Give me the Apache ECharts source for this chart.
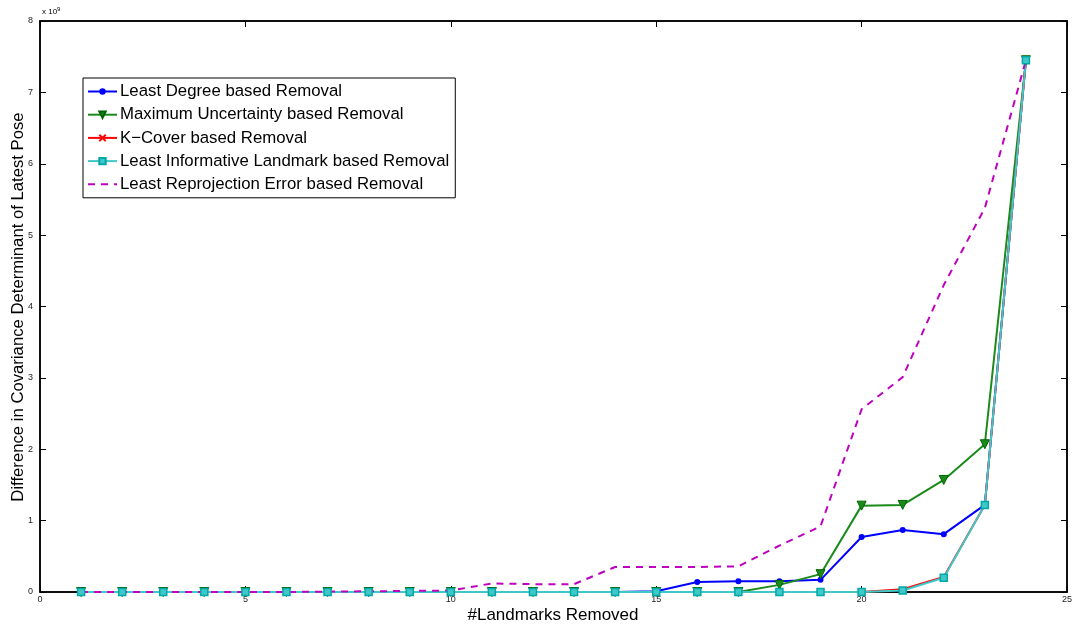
<!DOCTYPE html>
<html><head><meta charset="utf-8">
<script src="https://cdn.jsdelivr.net/npm/echarts@6/dist/echarts.min.js"></script>
<style>html,body{margin:0;padding:0;background:#fff}#c{width:1073px;height:629px}</style>
</head><body><div id="c"></div>
<script>
const xs = [1,2,3,4,5,6,7,8,9,10,11,12,13,14,15,16,17,18,19,20,21,22,23,24];
const leastDegree = [0,0,0,0,0,0,0,0,0,0,0,0,0,0,0.01,0.14,0.15,0.15,0.17,0.77,0.87,0.81,1.22,7.45];
const maxUncert   = [0,0,0,0,0,0,0,0,0,0,0,0,0,0,0,0,0,0.1,0.25,1.21,1.22,1.57,2.07,7.45];
const kCover      = [0,0,0,0,0,0,0,0,0,0,0,0,0,0,0,0,0,0,0,0,0.04,0.21,1.22,7.45];
const leastInfo   = [0,0,0,0,0,0,0,0,0,0,0,0,0,0,0,0,0,0,0,0,0.02,0.2,1.22,7.45];
const leastReproj = [0,0,0,0,0,0,0.005,0.01,0.015,0.02,0.12,0.11,0.11,0.35,0.35,0.35,0.36,0.65,0.92,2.56,3.01,4.3,5.38,7.45];
const names = ['Least Degree based Removal','Maximum Uncertainty based Removal','K\u2212Cover based Removal','Least Informative Landmark based Removal','Least Reprojection Error based Removal'];
const xTicks = [0,5,10,15,20,25];
const yTicks = [0,1,2,3,4,5,6,7,8];
const xTitle = '#Landmarks Removed';
const yTitle = 'Difference in Covariance Determinant of Latest Pose';

const pair = a => xs.map((x,i)=>[x,a[i]]);
const font = 'Liberation Sans, Arial, Helvetica, sans-serif';
const chart = echarts.init(document.getElementById('c'));
const axisCommon = {
  axisLine:{show:true,onZero:false,lineStyle:{color:'#000',width:1.5}},
  axisTick:{show:true,inside:true,length:6,lineStyle:{color:'#000'}},
  splitLine:{show:false}
};
chart.setOption({
  animation:false,
  grid:{left:40,right:6,top:21,bottom:37,show:true,borderColor:'#000',borderWidth:1.5,outerBoundsMode:'none',containLabel:false},
  xAxis:[
    Object.assign({type:'value',min:0,max:25,interval:5,
      axisLabel:{fontFamily:font,fontSize:9,color:'#222',margin:3}},axisCommon),
    Object.assign({type:'value',min:0,max:25,interval:5,position:'top',axisLabel:{show:false}},axisCommon)
  ],
  yAxis:[
    Object.assign({type:'value',min:0,max:8,interval:1,
      axisLabel:{fontFamily:font,fontSize:9,color:'#222',margin:7}},axisCommon),
    Object.assign({type:'value',min:0,max:8,interval:1,position:'right',axisLabel:{show:false}},axisCommon)
  ],
  legend:{
    orient:'vertical',left:83,top:78,
    backgroundColor:'#fff',borderColor:'#000',borderWidth:1,
    padding:[5,6,5,4],itemGap:6.2,itemWidth:29,itemHeight:8,
    textStyle:{fontFamily:font,fontSize:16.8,lineHeight:17,color:'#000',padding:[0,0,0,-2]},
    data:[names[0],names[1],names[2],names[3],{name:names[4],itemStyle:{opacity:0}}]
  },
  graphic:[
    {type:'text',left:42,top:6,style:{text:'x 10{s|9}',rich:{s:{fontSize:6,verticalAlign:'top',padding:[0,0,6,0]}},fontFamily:font,fontSize:8,fill:'#000'}},
    {type:'text',x:553,y:615,style:{text:xTitle,fontFamily:font,fontSize:17,fill:'#000',align:'center',verticalAlign:'middle'}},
    {type:'text',x:18,y:307,rotation:Math.PI/2,style:{text:yTitle,fontFamily:font,fontSize:16.7,fill:'#000',align:'center',verticalAlign:'middle'}}
  ],
  series:[
    {name:names[0],type:'line',data:pair(leastDegree),color:'#0000ff',lineStyle:{width:2},symbol:'circle',symbolSize:6,itemStyle:{color:'#0000ff'}},
    {name:names[1],type:'line',data:pair(maxUncert),color:'#008000',lineStyle:{width:2},symbol:'triangle',symbolRotate:180,symbolSize:9,itemStyle:{color:'#1a8a1a',borderColor:'#006400',borderWidth:1}},
    {name:names[2],type:'line',data:pair(kCover),color:'#ff0000',lineStyle:{width:2},symbol:'path://M0,0L10,10M10,0L0,10',symbolSize:4,itemStyle:{color:'#ff0000',borderColor:'#ff0000',borderWidth:1.5}},
    {name:names[3],type:'line',data:pair(leastInfo),color:'#00bfbf',lineStyle:{width:2},symbol:'rect',symbolSize:7,itemStyle:{color:'#40c8c8',borderColor:'#00a8a8',borderWidth:1.5}},
    {name:names[4],type:'line',data:pair(leastReproj),color:'#bf00bf',lineStyle:{width:2,type:[7,6]},symbol:'circle',symbolSize:0,showSymbol:false,itemStyle:{color:'#bf00bf'}}
  ]
});
</script></body></html>
